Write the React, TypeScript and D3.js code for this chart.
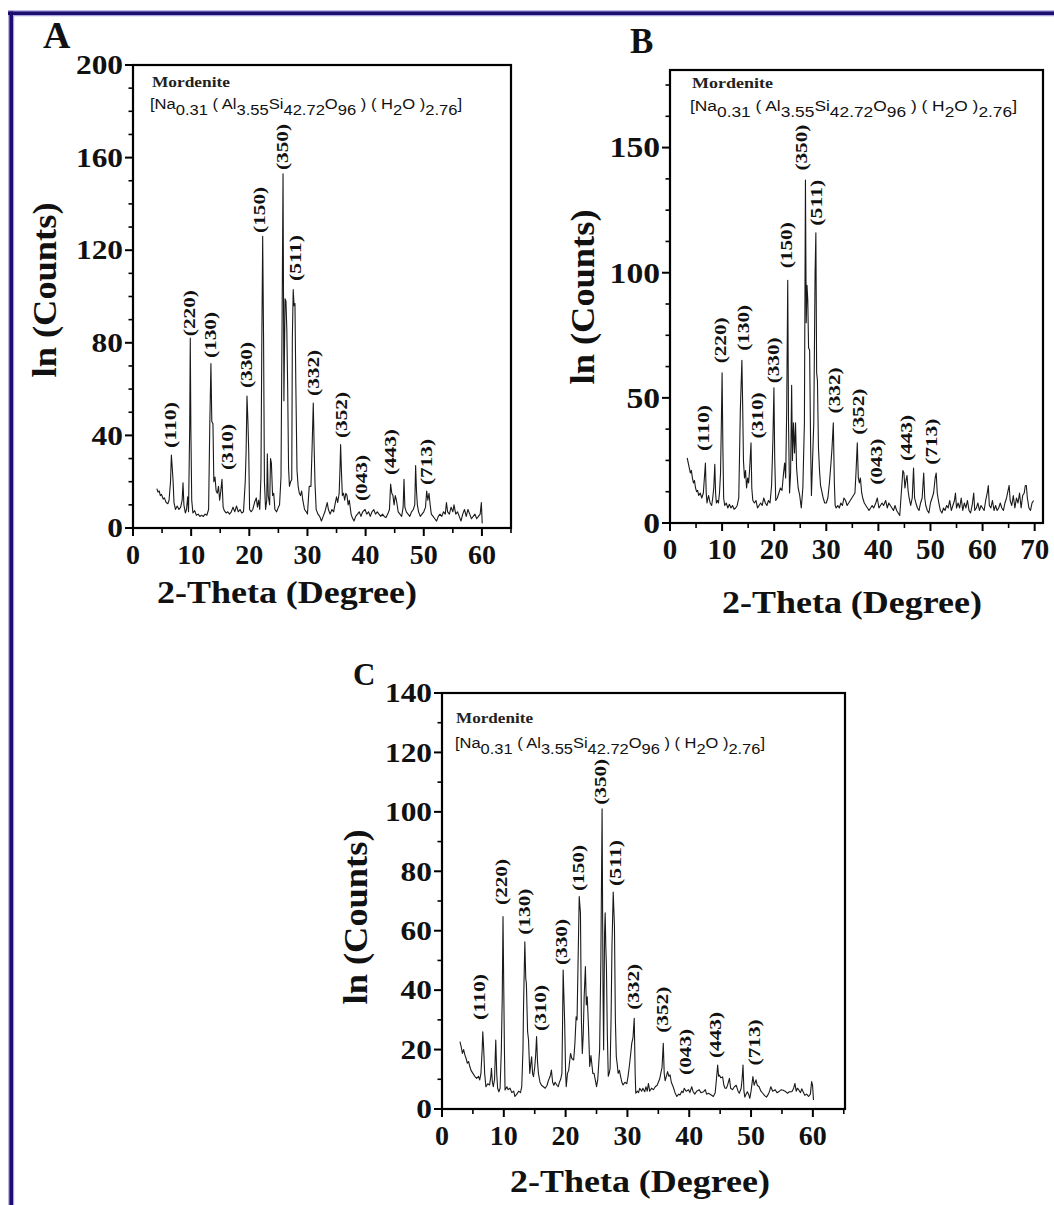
import React from 'react';
import * as d3 from 'd3';

// ---------- DATA ----------
const hkl = ['(110)', '(220)', '(130)', '(310)', '(330)', '(150)', '(350)', '(511)', '(332)', '(352)', '(043)', '(443)', '(713)'];

// Panel A
const thetaA = [4.1,4.3,4.5,4.7,4.9,5.2,5.4,5.7,6.0,6.2,6.45,6.6,6.75,6.9,7.05,7.3,7.6,7.9,8.2,8.45,8.6,8.75,9.0,9.2,9.4,9.55,9.75,9.85,9.95,10.1,10.3,10.6,10.9,11.2,11.5,11.8,12.1,12.4,12.7,13.0,13.2,13.4,13.55,13.75,13.9,14.1,14.3,14.5,14.7,14.9,15.1,15.3,15.5,15.7,16.0,16.3,16.6,16.9,17.2,17.5,17.8,18.1,18.4,18.7,19.0,19.3,19.45,19.6,19.75,19.9,20.05,20.3,20.6,20.9,21.2,21.4,21.6,21.8,22.0,22.15,22.3,22.45,22.6,22.8,23.0,23.1,23.25,23.5,23.65,23.8,24.0,24.2,24.4,24.7,25.0,25.2,25.45,25.65,25.8,25.95,26.15,26.3,26.45,26.6,26.75,26.9,27.1,27.3,27.4,27.55,27.7,27.85,28.0,28.2,28.4,28.6,28.8,29.0,29.2,29.5,29.8,30.0,30.3,30.6,30.8,31.0,31.15,31.3,31.5,31.8,32.1,32.4,32.7,33.0,33.2,33.4,33.6,33.9,34.2,34.5,34.8,35.0,35.2,35.45,35.6,35.7,35.85,36.0,36.2,36.4,36.6,36.8,37.0,37.2,37.5,37.7,38.0,38.3,38.6,38.9,39.2,39.5,39.9,40.2,40.5,40.8,41.1,41.4,41.7,42.0,42.3,42.6,42.9,43.2,43.5,43.8,44.1,44.3,44.5,44.7,44.9,45.1,45.3,45.6,45.9,46.2,46.45,46.6,46.75,47.0,47.3,47.6,47.9,48.2,48.45,48.6,48.75,48.9,49.1,49.4,49.7,50.0,50.3,50.5,50.7,50.9,51.1,51.3,51.6,51.9,52.2,52.5,52.8,53.1,53.4,53.7,53.9,54.1,54.4,54.7,55.0,55.2,55.5,55.8,56.1,56.4,56.7,57.0,57.3,57.6,57.9,58.2,58.5,58.8,59.1,59.4,59.7,59.9,60.05];
const countsA = [17,15.5,16,14,14.5,12.5,13,11,10.5,12,20,31.5,26,20,11,8,9.5,8,9,12,19.5,10,6.5,8,13.5,7,44,82,43,12,6.5,7.5,5.5,6,5,5.5,5,6,5.5,8,44,71,46,45,20,22,16,15,18,12,16,21,9,7.5,6.5,7,6,7,9,7,9.5,7,8,6.5,7,20,33,57,47,33,8,7,8,11,13,9,12,8,22,80,126,82,20,8,12,32,14,10,30,28,14,15,8,7,9,10,22,95,153,55,99,98,86,60,26,18,20,21,82,103,96,97,62,25,18,15,14,16,12,8,7,6,18,18,35,54,35,19,8,6,5,3,5,7,9,11,8,6,8,7,11,13.5,11,15,26,36,24,14,15,12,15,14,10,12,6,4.5,3,5,6,7,5,7,8,6,7,5,7,8,6,7,6,5,6,5,4.5,6,8,19,15,14,10,14,12,7,6,5,9,21,9,7,6,5,7,8,10,27,16,10,7,5,6,7,9,16,12,15,10,6,5,4,3,5,6,5,7,6,11,7,6,9,7,10,6,7,5,3,6,8,5,8,6,4,5,6,4,5,6,11,2];
const labelXA = [6.6, 9.85, 13.4, 16.3, 19.6, 21.8, 25.8, 28.1, 31.1, 35.9, 39.3, 44.3, 50.6];
const labelYA = [33.7, 82, 72.6, 24.2, 59.6, 126.6, 153.8, 105.8, 56.2, 38, 10.8, 22, 17.7];
const yTicksA = [0, 40, 80, 120, 160, 200];

// Panel B
const thetaB = [3.3,3.5,3.7,3.9,4.1,4.3,4.5,4.7,4.9,5.1,5.3,5.5,5.8,6.1,6.4,6.6,6.8,6.95,7.1,7.4,7.7,8.0,8.2,8.4,8.6,8.75,8.9,9.1,9.3,9.5,9.7,9.85,10.0,10.15,10.3,10.5,10.8,11.1,11.4,11.7,12.0,12.3,12.6,12.9,13.2,13.5,13.8,13.95,14.1,14.3,14.5,14.7,14.9,15.1,15.3,15.55,15.7,15.9,16.2,16.5,16.8,17.1,17.4,17.7,18.0,18.3,18.6,18.9,19.2,19.5,19.75,19.95,20.1,20.3,20.6,20.9,21.2,21.5,21.8,22.0,22.2,22.4,22.6,22.75,22.95,23.15,23.35,23.5,23.7,23.9,24.1,24.3,24.6,24.9,25.2,25.5,25.8,26.0,26.15,26.3,26.45,26.6,26.8,27.0,27.15,27.35,27.6,27.85,28.0,28.15,28.3,28.5,28.7,28.9,29.1,29.4,29.7,30.0,30.3,30.6,30.9,31.1,31.35,31.55,31.7,31.9,32.2,32.5,32.8,33.1,33.4,33.7,34.0,34.3,34.6,34.9,35.2,35.5,35.7,35.95,36.15,36.35,36.55,36.8,37.0,37.3,37.6,37.9,38.2,38.5,38.8,39.1,39.5,39.8,40.1,40.4,40.7,41.0,41.4,41.7,42.0,42.3,42.6,42.9,43.2,43.5,43.8,44.1,44.4,44.7,44.9,45.1,45.3,45.5,45.7,45.9,46.2,46.5,46.75,46.95,47.2,47.5,47.8,48.1,48.4,48.7,48.9,49.1,49.4,49.7,50.0,50.3,50.6,50.9,51.1,51.3,51.6,51.9,52.2,52.5,52.8,53.1,53.4,53.7,54.0,54.3,54.6,54.8,55.0,55.3,55.6,55.9,56.2,56.5,56.8,57.1,57.4,57.7,58.0,58.3,58.5,58.8,59.1,59.4,59.7,60.0,60.3,60.6,60.9,61.1,61.3,61.6,61.9,62.2,62.5,62.8,63.1,63.4,63.7,64.0,64.3,64.6,64.9,65.1,65.3,65.6,65.9,66.2,66.5,66.8,67.1,67.4,67.7,68.0,68.2,68.4,68.6,68.9,69.2,69.5,69.8];
const countsB = [26,24,22,20,21,18,16,17,14,12.5,13,11,12,10,12,18,24,12,8,11,8,7,10,14,23.5,12,8,9,8,12,20,39,60,30,10,7,8,6,7.5,6,7,5.5,6,7,10,45,65,47,25,18,21,14,18,16,22,32,14,9,8,9,6,7,8,7,10,8,7,9,8,15,33,54,26,9,10,12,14,13,20,24,18,45,97,40,12,20,55,25,40,28,40,22,14,11,6,14,40,137,80,95,89,70,69,30,11,24,40,100,116,60,57,30,21,15,13,10,8,8,10,16,24,30,40,16,7,6,7,6,8,7,10,9,7,8,9,10,11,12,20,32,18,16,18,12,10,8,7,6,5,6,7,6,8,10,6,7,8,7,9,6,8,7,6,5,7,5,4,3,12,21,20,14,17,19,13,10,7,10,22,10,8,6,5,8,10,20,10,7,5,4,8,10,12,18,20,12,8,5,4,6,5,7,6,9,5,7,9,12,6,8,6,10,5,8,6,9,5,4,7,12,5,6,8,5,7,6,5,9,12,15,7,6,9,5,7,5,6,8,6,5,8,10,13,15,9,7,11,6,10,8,12,6,11,12,15,15,10,6,5,8,9];
const labelXB = [6.5, 9.7, 14.3, 16.9, 19.9, 22.4, 25.3, 28.3, 31.6, 36.3, 39.8, 45.5, 50.3];
const labelYB = [28, 63, 68, 33, 55, 101, 140, 118, 43, 34.5, 14.5, 24, 22.5];
const yTicksB = [0, 50, 100, 150];

// Panel C
const thetaC = [2.9,3.1,3.3,3.5,3.7,3.9,4.1,4.3,4.5,4.7,5.0,5.3,5.6,5.9,6.1,6.3,6.5,6.6,6.75,6.9,7.1,7.4,7.7,7.9,8.0,8.15,8.3,8.5,8.7,8.85,9.0,9.2,9.4,9.6,9.75,9.87,10.0,10.1,10.2,10.5,10.7,11.0,11.3,11.6,11.8,12.1,12.4,12.7,12.9,13.1,13.2,13.4,13.55,13.65,13.85,14.0,14.2,14.35,14.5,14.65,14.8,15.0,15.15,15.3,15.45,15.6,15.85,16.1,16.4,16.7,17.0,17.2,17.5,17.7,17.9,18.1,18.3,18.6,18.8,19.0,19.2,19.4,19.5,19.6,19.75,19.85,20.0,20.1,20.3,20.5,20.7,20.8,21.0,21.3,21.5,21.7,21.85,22.0,22.2,22.4,22.55,22.7,22.85,23.0,23.2,23.35,23.5,23.7,23.9,24.1,24.4,24.6,24.8,25.0,25.2,25.35,25.5,25.7,25.9,26.05,26.15,26.3,26.4,26.5,26.6,26.75,26.9,27.05,27.2,27.35,27.5,27.7,27.9,28.05,28.2,28.35,28.5,28.7,28.9,29.1,29.3,29.6,29.9,30.1,30.3,30.5,30.7,30.9,31.1,31.25,31.35,31.6,31.8,32.0,32.3,32.5,32.8,33.0,33.2,33.4,33.6,33.9,34.2,34.5,34.8,35.0,35.2,35.4,35.6,35.8,35.95,36.1,36.3,36.5,36.7,36.9,37.1,37.4,37.7,38.0,38.3,38.5,38.8,39.0,39.2,39.5,39.9,40.1,40.4,40.6,40.9,41.2,41.6,41.9,42.3,42.6,42.8,43.1,43.5,43.9,44.2,44.4,44.6,44.75,44.9,45.1,45.4,45.6,45.8,46.0,46.2,46.5,46.7,47.0,47.3,47.6,47.9,48.1,48.4,48.55,48.7,48.85,49.0,49.2,49.4,49.6,49.8,50.0,50.3,50.5,50.8,51.0,51.3,51.6,51.9,52.2,52.5,52.8,53.0,53.2,53.5,53.9,54.2,54.6,54.9,55.2,55.5,55.9,56.2,56.6,56.9,57.1,57.3,57.5,57.7,58.0,58.2,58.5,58.7,59.0,59.3,59.6,59.8,59.95,60.1];
const countsC = [22.7,21,18.7,20,18.2,17,15.4,16,14.3,13,12,11,10.3,11,9.8,12,20,26,20,12,7.5,8.5,8.1,11,13.7,9,7.5,10,23.2,12,7,5.8,7,20,38,64.8,39,20,6.4,7.5,6.5,7,5.5,6,4.2,5,6,5.5,7.5,20,35.6,56.3,44,42.3,26,23.2,12,15,17.6,12,10.9,14,18,24.4,16,12,9,8,7.5,7,8,9.5,11,13.1,9,8,9,8,7.5,9,10,12,28,46.8,36,28.8,12,7.5,12,13,17,18.7,17,16.5,22,31,30,47.9,71.5,65.9,30,18.7,25,37.8,47.9,35,37.8,27.7,14.3,18,12,12,9.8,7.5,10,15,19.9,50,101,40,19.9,59,66,55,47.9,25,11,12,13.7,30,54.7,73,61.4,30,17.6,15,12,13,10.9,9,8.1,9,8.5,11,14.3,18,22.1,24,30.5,12,5.3,6,5.5,7,6,7,5.8,7.5,6,8.6,6,7,6.5,7.5,8,9,10,12,14,22.1,12,9.5,11,12.6,11,11.5,9,7.5,5.5,4.2,5,4.7,6,5.5,7,6,6.5,5.5,7.5,6,5,6,6.5,5.5,5.8,6.5,5,5.3,4.8,4.2,5.5,10,14.8,11,11.4,10.5,10.8,8,7,7,8,10.3,7,6.5,7.5,8,6,5.3,7,10,14.8,6,4,5,5.8,5,3.6,6,10.9,8,9.8,8,7.5,6,5.3,4.5,4,5,6,7.5,6,6.5,5.5,6,6.5,6.3,6,5.3,5.8,5.8,7,8.6,6,7,6.5,5.5,6.8,5.5,4.6,5,4.2,5,9.2,8,3];
const labelXC = [6.1, 9.7, 13.4, 16.0, 19.4, 22.2, 25.7, 28.2, 31.0, 35.8, 39.5, 44.4, 50.6];
const labelYC = [29.3, 68, 58, 25.6, 47.8, 72.7, 101.7, 74.4, 32.7, 25, 10.8, 16.5, 14];
const yTicksC = [0, 20, 40, 60, 80, 100, 120, 140];

const xTicks60 = [0, 10, 20, 30, 40, 50, 60];
const xTicks70 = [0, 10, 20, 30, 40, 50, 60, 70];

// ---------- LAYOUT ----------
const SERIF = '"Times New Roman", "Liberation Serif", Tinos, Times, serif';
const SANS = 'Arial, "Liberation Sans", Helvetica, sans-serif';

const panels = [
  {
    id: 'A', theta: thetaA, counts: countsA, lx: labelXA, ly: labelYA,
    box: { left: 133, right: 511, top: 65, bottom: 528 }, xMax: 65, yMax: 200,
    yTicks: yTicksA, yMinor: 10, xTicks: xTicks60, xMinorMax: 65,
    tickFont: 28, xTickFont: 28,
    letter: { x: 43, y: 48, size: 38 },
    ylab: { cx: 48, cy: 290 }, xlab: { cx: 287, y: 603 },
    mord: { x: 152, y: 87, w: 78 }, formula: { x: 150, y: 109, w: 312 },
  },
  {
    id: 'B', theta: thetaB, counts: countsB, lx: labelXB, ly: labelYB,
    box: { left: 670, right: 1043, top: 70, bottom: 523 }, xMax: 71.6, yMax: 181,
    yTicks: yTicksB, yMinor: 12.5, xTicks: xTicks70, xMinorMax: 71,
    tickFont: 30, xTickFont: 29,
    letter: { x: 630, y: 53, size: 35 },
    ylab: { cx: 586, cy: 297 }, xlab: { cx: 852, y: 613 },
    mord: { x: 692, y: 88, w: 81 }, formula: { x: 690, y: 111, w: 327 },
  },
  {
    id: 'C', theta: thetaC, counts: countsC, lx: labelXC, ly: labelYC,
    box: { left: 442, right: 845, top: 693, bottom: 1109 }, xMax: 65.2, yMax: 140,
    yTicks: yTicksC, yMinor: 10, xTicks: xTicks60, xMinorMax: 65,
    tickFont: 28, xTickFont: 28,
    letter: { x: 353, y: 685, size: 31 },
    ylab: { cx: 359, cy: 917 }, xlab: { cx: 640, y: 1192 },
    mord: { x: 456, y: 723, w: 77 }, formula: { x: 455, y: 748, w: 310 },
  },
];

function Formula({ x, y, w }: { x: number; y: number; w: number }) {
  const parts: [string, boolean][] = [
    ['[Na', false], ['0.31', true], [' ( Al', false], ['3.55', true], ['Si', false], ['42.72', true],
    ['O', false], ['96', true], [' ) ( H', false], ['2', true], ['O )', false], ['2.76', true], [']', false],
  ];
  let prevSub = false;
  return (
    <text x={x} y={y} fontFamily={SANS} fontSize={15.5} fill="#111" textLength={w}
      lengthAdjust="spacingAndGlyphs" style={{ whiteSpace: 'pre' }}>
      {parts.map(([t, sub], i) => {
        const dy = sub === prevSub ? 0 : sub ? 6 : -6;
        prevSub = sub;
        return <tspan key={i} dy={dy}>{t}</tspan>;
      })}
    </text>
  );
}

function Panel({ p }: { p: typeof panels[number] }) {
  const { box } = p;
  const x = d3.scaleLinear().domain([0, p.xMax]).range([box.left, box.right]);
  const y = d3.scaleLinear().domain([0, p.yMax]).range([box.bottom, box.top]);
  const pts = p.theta.map((t, i) => [t, p.counts[i]] as [number, number]);
  const line = d3.line<[number, number]>().x(d => x(d[0])).y(d => y(d[1]));
  const yMinorTicks = d3.range(0, p.yMax + 0.001, p.yMinor).filter(v => !p.yTicks.includes(v));
  const xMinorTicks = d3.range(5, p.xMinorMax + 0.001, 10);
  const stretch = 1.12;
  return (
    <g>
      <path d={line(pts) || ''} fill="none" stroke="#1a1a1a" strokeWidth={1.1} strokeLinejoin="round" />
      <rect x={box.left} y={box.top} width={box.right - box.left} height={box.bottom - box.top}
        fill="none" stroke="#000" strokeWidth={2.2} />
      {p.yTicks.map(v => (
        <g key={'yt' + v}>
          <line x1={box.left - 8} x2={box.left} y1={y(v)} y2={y(v)} stroke="#000" strokeWidth={2} />
          <text x={box.left - 10} y={y(v) + p.tickFont * 0.33} textAnchor="end" fontFamily={SERIF}
            fontWeight="bold" fontSize={p.tickFont} fill="#111"
            textLength={String(v).length * 0.5 * p.tickFont * stretch} lengthAdjust="spacingAndGlyphs">{v}</text>
        </g>
      ))}
      {yMinorTicks.map(v => (
        <line key={'ym' + v} x1={box.left - 4.5} x2={box.left} y1={y(v)} y2={y(v)} stroke="#000" strokeWidth={1.6} />
      ))}
      {p.xTicks.map(v => (
        <g key={'xt' + v}>
          <line x1={x(v)} x2={x(v)} y1={box.bottom} y2={box.bottom + 8} stroke="#000" strokeWidth={2} />
          <text x={x(v)} y={box.bottom + 36} textAnchor="middle" fontFamily={SERIF} fontWeight="bold"
            fontSize={p.xTickFont} fill="#111">{v}</text>
        </g>
      ))}
      {xMinorTicks.map(v => (
        <line key={'xm' + v} x1={x(v)} x2={x(v)} y1={box.bottom} y2={box.bottom + 5} stroke="#000" strokeWidth={1.6} />
      ))}
      {hkl.map((h, i) => (
        <text key={h} transform={`translate(${x(p.lx[i]) + 5},${y(p.ly[i]) - 2}) rotate(-90)`}
          fontFamily={SERIF} fontWeight="bold" fontSize={16.5} fill="#111"
          textLength={46} lengthAdjust="spacingAndGlyphs">{h}</text>
      ))}
      <text x={p.mord.x} y={p.mord.y} fontFamily={SERIF} fontWeight="bold" fontSize={15} fill="#222"
        textLength={p.mord.w} lengthAdjust="spacingAndGlyphs">Mordenite</text>
      <Formula x={p.formula.x} y={p.formula.y} w={p.formula.w} />
      <text transform={`translate(${p.ylab.cx + 8},${p.ylab.cy}) rotate(-90)`} textAnchor="middle"
        fontFamily={SERIF} fontWeight="bold" fontSize={33} fill="#111" textLength={175}
        lengthAdjust="spacingAndGlyphs">ln (Counts)</text>
      <text x={p.xlab.cx} y={p.xlab.y} textAnchor="middle" fontFamily={SERIF} fontWeight="bold"
        fontSize={31} fill="#111" textLength={260} lengthAdjust="spacingAndGlyphs">2-Theta (Degree)</text>
      <text x={p.letter.x} y={p.letter.y} fontFamily={SERIF} fontWeight="bold" fontSize={p.letter.size}
        fill="#111">{p.id}</text>
    </g>
  );
}

export default function App() {
  return (
    <svg width={1054} height={1205} viewBox="0 0 1054 1205"
      style={{ position: 'absolute', left: 0, top: 0, background: '#fff' }}>
      <rect x={0} y={0} width={1054} height={1205} fill="#fff" />
      <line x1={8} x2={1054} y1={13.3} y2={13.3} stroke="#aaa3dc" strokeWidth={6} />
      <line x1={11.2} x2={11.2} y1={10.5} y2={1205} stroke="#aaa3dc" strokeWidth={6} />
      <line x1={8} x2={1054} y1={13.3} y2={13.3} stroke="#1c0e6e" strokeWidth={3.6} />
      <line x1={11.2} x2={11.2} y1={11.5} y2={1205} stroke="#1c0e6e" strokeWidth={3.6} />
      {panels.map(p => <Panel key={p.id} p={p} />)}
    </svg>
  );
}
